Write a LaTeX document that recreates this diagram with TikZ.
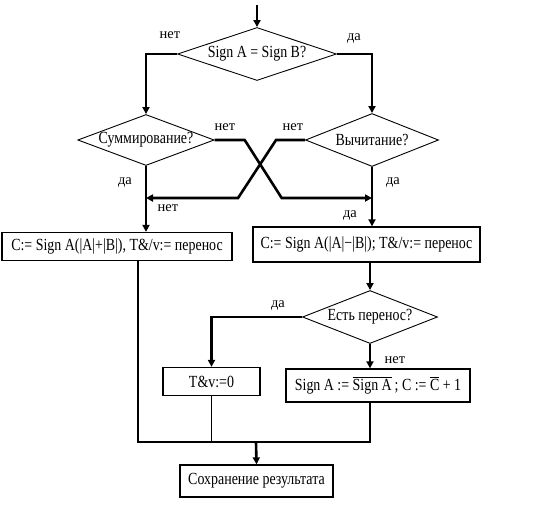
\documentclass[tikz,border=0pt]{standalone}
\usepackage{fontspec}
\setmainfont{Liberation Serif}[FakeStretch=0.82]
\newfontfamily\answerfont{Liberation Serif}
\usetikzlibrary{arrows.meta,positioning,shapes.geometric,calc}

\begin{document}
\begin{tikzpicture}[
				x=1pt,y=-1pt,
				decision/.style={
					draw,
					diamond,
					aspect=2.8,
					inner sep=0pt,
					line width=0.9pt,
					align=center,
					font=\fontsize{17}{19}\selectfont
				},
				block/.style={
					draw,
					rectangle,
					inner sep=0pt,
					line width=1.3pt,
					align=center,
					font=\fontsize{17}{19}\selectfont
				},
				answer/.style={
					inner sep=0pt,
					font=\answerfont\fontsize{14.5}{16}\selectfont
				},
				flow/.style={
					line width=2.6pt,
					-{Triangle[length=7pt,width=7pt]}
				},
				link/.style={
					line width=1.8pt
				}
				]
				\useasboundingbox (0,0) rectangle (542,517);
				
				\coordinate (start) at (257,5);
				\node[decision, minimum width=159pt, minimum height=53pt] (sgn) at (257,54) {Sign A = Sign B?};
				\node[decision, minimum width=136pt, minimum height=51pt] (sum) at (146,140) {Суммирование?};
				\node[decision, minimum width=133pt, minimum height=53pt] (sub) at (372,140) {Вычитание?};
				
				\node[block, minimum width=230pt, minimum height=28pt] (add) at (117,246.5) {C:= Sign A(|A|+|B|), T\&/v:= перенос};
				\node[block, minimum width=227pt, minimum height=35pt] (diff) at (366.5,244.5) {C:= Sign A(|A|−|B|); T\&/v:= перенос};
				
				\node[decision, minimum width=135pt, minimum height=53pt] (carry) at (370,317) {Есть перенос?};
				\node[block, minimum width=97pt, minimum height=28pt] (clr) at (211.5,381.5) {T\&v:=0};
				\node[block, minimum width=184pt, minimum height=33pt] (inv) at (378,385.5) {Sign A := $\overline{\mbox{Sign A}}$\,; C := $\overline{\mbox{C}}$ + 1};
				
				\node[block, minimum width=153pt, minimum height=32pt] (save) at (256.5,481) {Сохранение результата};
				
				% answers
				\node[answer] (sgnNo) at (170,35) {нет};
				\node[answer] (sgnYes) at (354,38) {да};
				\node[answer] (sumNo) at (225,127) {нет};
				\node[answer] (subNo) at (293,127) {нет};
				\node[answer] (sumYes) at (125,182) {да};
				\node[answer] (subYes) at (393,182) {да};
				\node[answer] (crossNo) at (168,208) {нет};
				\node[answer] (crossYes) at (350,215) {да};
				\node[answer] (carryYes) at (278,305) {да};
				\node[answer] (carryNo) at (395,360) {нет};
				
				% connectors
				\coordinate (jl) at (146,198);
				\coordinate (jr) at (372,198);
				\coordinate (mrg) at (256,442);
				\draw[flow] (start) -- (sgn.north);
				\draw[flow] (sgn.west) -| (sum.north);
				\draw[flow] (sgn.east) -| (sub.north);
				\draw[flow] (sum.east) -- ++(30,0) -- ++(37,58) -- (jr);
				\draw[flow] (sub.west) -- ++(-29,0) -- ++(-38,58) -- (jl);
				\draw[flow] (sum.south) -- (add.north -| sum.south);
				\draw[flow] (sub.south) -- (diff.north -| sub.south);
				\draw[flow] (diff.south -| carry.north) -- (carry.north);
				\draw[flow] (carry.west) -| (clr.north);
				\draw[flow] (carry.south) -- (inv.north -| carry.south);
				\draw[link] ([xshift=21pt]add.south) |- ([xshift=-8pt]inv.south |- mrg) -- ([xshift=-8pt]inv.south);
				\draw[link] (clr.south) -- (clr.south |- mrg);
				\draw[flow] (mrg) -- (save.north);
			\end{tikzpicture}
\end{document}
